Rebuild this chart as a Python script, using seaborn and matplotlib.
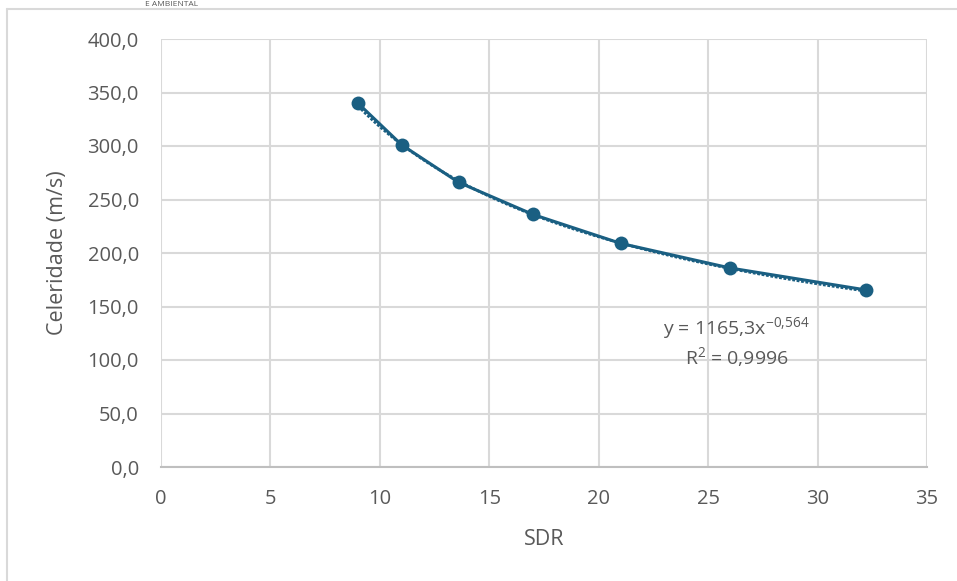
import numpy as np
import pandas as pd
import matplotlib
matplotlib.use("Agg")
import matplotlib.pyplot as plt
import seaborn as sns

sdr = [9.0, 11.0, 13.6, 17.0, 21.0, 26.0, 32.2]
celeridade = [340.0, 301.0, 266.0, 236.0, 209.0, 186.0, 165.5]
x_ticks = [0, 5, 10, 15, 20, 25, 30, 35]
y_ticks = [0, 50, 100, 150, 200, 250, 300, 350, 400]
fit_a = 1165.3
fit_b = -0.564

df = pd.DataFrame({"SDR": sdr, "Celeridade": celeridade})

sns.set_theme(style="white")
plt.rcParams['font.family'] = ['Open Sans', 'DejaVu Sans']
plt.rcParams['mathtext.fontset'] = 'custom'
plt.rcParams['mathtext.rm'] = 'Open Sans'
plt.rcParams['mathtext.it'] = 'Open Sans'

color = "#1a5f82"
txt = "#595959"

fig = plt.figure(figsize=(9.57, 5.81), dpi=100)
ax = fig.add_axes([161/957, 1-467/581, (927-161)/957, (467-39)/581])

# frame lines of the screenshot
fig.add_artist(plt.Line2D([7/957, 1], [1-9/581, 1-9/581], color="#d9d9d9", lw=1.5, transform=fig.transFigure))
fig.add_artist(plt.Line2D([7/957, 7/957], [0, 1-9/581], color="#d9d9d9", lw=1.5, transform=fig.transFigure))
fig.text(145/957, 1-4.5/581, "E AMBIENTAL", fontsize=6, color=txt, va="center", ha="left")

# trendline
xf = np.linspace(min(sdr), max(sdr), 200)
ax.plot(xf, fit_a * xf ** fit_b, color=color, lw=2, ls=(0, (1, 0.6)), zorder=3)

sns.lineplot(data=df, x="SDR", y="Celeridade", ax=ax, color=color, lw=2.2,
             marker="o", markersize=10, markeredgewidth=0, zorder=4)

ax.set_xlim(0, 35)
ax.set_ylim(0, 400)
ax.set_xticks(x_ticks)
ax.set_yticks(y_ticks)
ax.set_xticklabels([str(v) for v in x_ticks])
ax.set_yticklabels([f"{v:.1f}".replace(".", ",") for v in y_ticks])
ax.grid(True, color="#d9d9d9", lw=1.5)
ax.set_axisbelow(True)
for s in ["top", "right", "left"]:
    ax.spines[s].set_visible(False)
ax.spines["bottom"].set_color("#bfbfbf")
ax.spines["bottom"].set_linewidth(1.5)
ax.tick_params(axis="y", length=0, labelsize=14.5, colors=txt, pad=16)
ax.tick_params(axis="x", length=0, labelsize=14.5, colors=txt, pad=16)

ax.set_xlabel("SDR", fontsize=15.5, color=txt, labelpad=14)
ax.set_ylabel("Celeridade (m/s)", fontsize=15.5, color=txt, labelpad=14)

ax.text(26.3, 130, r"y = 1165,3x$^{\mathregular{-0{,}564}}$", fontsize=14, color=txt, ha="center", va="center")
ax.text(26.3, 103, r"R$^{\mathregular{2}}$ = 0,9996", fontsize=14, color=txt, ha="center", va="center")

fig.savefig("out.png", dpi=100, facecolor="white")
